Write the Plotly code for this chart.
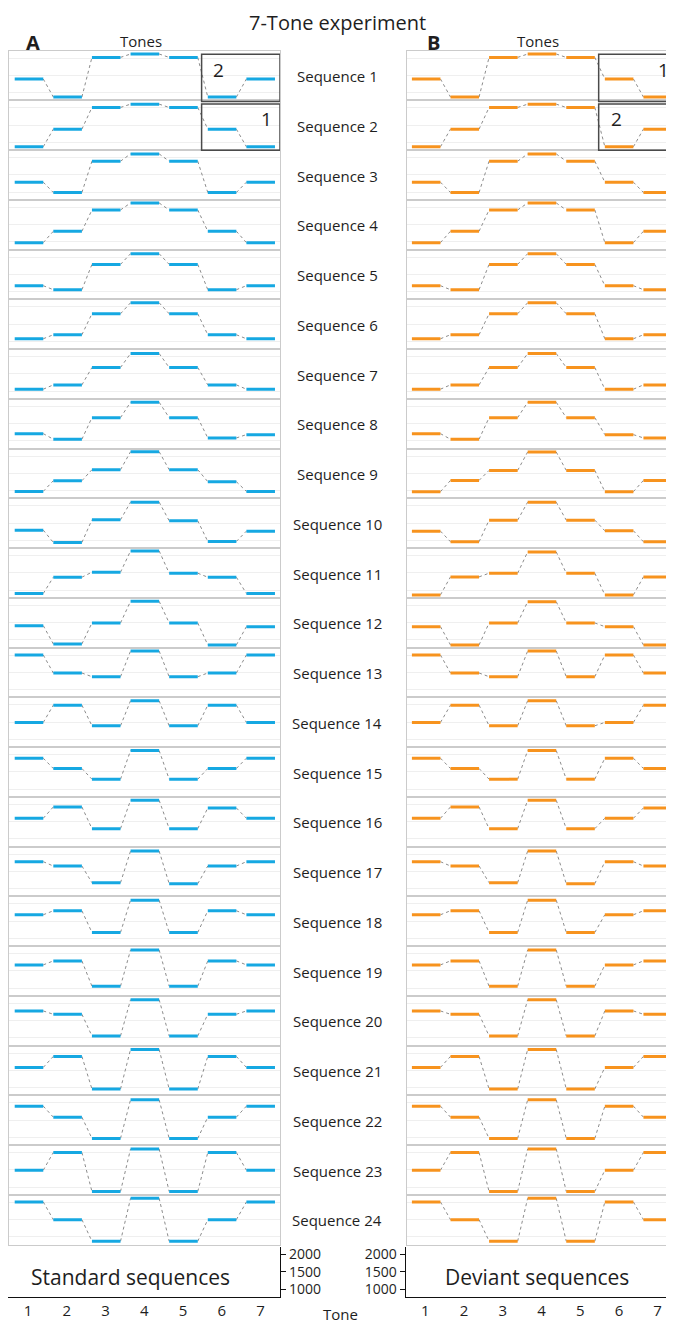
import plotly.graph_objects as go

# ---------------- data ----------------
TONES = [1, 2, 3, 4, 5, 6, 7]
SEQ_LABELS = [f"Sequence {i}" for i in range(1, 25)]
SCALE_TICKS = [1000, 1500, 2000]
SCALE_TEXT = ["1000", "1500", "2000"]

STANDARD = [
    [1396, 874, 2023, 2121, 2023, 874, 1396],
    [874, 1385, 2014, 2110, 2014, 1385, 874],
    [1289, 990, 1898, 2110, 1898, 990, 1289],
    [979, 1309, 1927, 2130, 1927, 1309, 979],
    [1173, 1057, 1791, 2101, 1791, 1057, 1173],
    [1077, 1193, 1802, 2121, 1802, 1193, 1077],
    [1057, 1182, 1686, 2092, 1686, 1182, 1057],
    [1211, 1048, 1675, 2121, 1675, 1086, 1182],
    [979, 1289, 1608, 2130, 1608, 1260, 979],
    [1298, 941, 1599, 2110, 1570, 970, 1269],
    [903, 1376, 1521, 2139, 1492, 1376, 903],
    [1414, 883, 1492, 2121, 1492, 854, 1385],
    [2005, 1483, 1376, 2121, 1376, 1483, 2005],
    [1492, 1994, 1396, 2121, 1396, 1994, 1492],
    [1898, 1599, 1289, 2121, 1289, 1599, 1898],
    [1599, 1927, 1298, 2121, 1298, 1898, 1599],
    [1782, 1657, 1173, 2092, 1144, 1657, 1782],
    [1686, 1802, 1173, 2110, 1173, 1802, 1686],
    [1675, 1791, 1057, 2110, 1057, 1791, 1675],
    [1782, 1686, 1057, 2110, 1057, 1686, 1782],
    [1588, 1907, 961, 2110, 961, 1907, 1588],
    [1907, 1588, 970, 2092, 970, 1588, 1907],
    [1492, 2005, 874, 2110, 874, 2005, 1492],
    [2014, 1501, 874, 2121, 874, 1501, 2014],
]

DEVIANT = [
    [1396, 874, 2023, 2121, 2023, 1396, 874],
    [874, 1385, 2014, 2110, 2014, 874, 1385],
    [1289, 990, 1898, 2110, 1898, 1289, 990],
    [979, 1309, 1927, 2130, 1927, 979, 1309],
    [1173, 1057, 1791, 2101, 1791, 1173, 1057],
    [1077, 1193, 1802, 2121, 1802, 1077, 1193],
    [1057, 1182, 1686, 2092, 1686, 1057, 1182],
    [1211, 1048, 1675, 2121, 1675, 1182, 1086],
    [970, 1298, 1588, 2121, 1588, 970, 1298],
    [1269, 961, 1588, 2110, 1588, 1280, 961],
    [863, 1385, 1492, 2110, 1492, 863, 1385],
    [1385, 854, 1492, 2110, 1492, 1385, 854],
    [2005, 1483, 1376, 2121, 1376, 2005, 1483],
    [1492, 1994, 1396, 2121, 1396, 1492, 1994],
    [1898, 1599, 1289, 2121, 1289, 1898, 1599],
    [1599, 1927, 1298, 2121, 1298, 1599, 1898],
    [1782, 1657, 1173, 2092, 1144, 1782, 1657],
    [1686, 1802, 1173, 2110, 1173, 1686, 1802],
    [1675, 1791, 1057, 2110, 1057, 1675, 1791],
    [1782, 1686, 1057, 2110, 1057, 1782, 1686],
    [1588, 1907, 961, 2110, 961, 1588, 1907],
    [1907, 1588, 970, 2092, 970, 1907, 1588],
    [1492, 2005, 874, 2110, 874, 1492, 2005],
    [2014, 1501, 874, 2121, 874, 2014, 1501],
]

# ---------------- layout constants (screen pixels of the page) ----------------
W, H = 674, 1322
OFF = 8            # page body margin
ROW_TOP = 50.7
ROW_H = 49.75
Y_RANGE = [774, 2217]
HALF = 0.37
FONT = "Open Sans"
TXT = "#1e1e1e"

PANELS = [
    dict(data=STANDARD, color="#16a8e2", x0=9.3, x1=280.0, xr=[0.49, 7.5],
         yside="right", label="Standard sequences", label_x=130, letter="A",
         letter_x=33, tones_x=141,
         boxes=[("2", "left"), ("1", "right")]),
    dict(data=DEVIANT, color="#f7931e", x0=406.7, x1=677.0, xr=[0.495, 7.5],
         yside="left", label="Deviant sequences", label_x=537, letter="B",
         letter_x=434, tones_x=538,
         boxes=[("1", "right"), ("2", "left")]),
]


def fx(px):
    return (px - OFF) / W


def fy(py):
    return 1 - (py - OFF) / H


def axname(kind, n):
    return kind if n == 1 else f"{kind}{n}"


def ref(kind, n):
    return kind[0] if n == 1 else f"{kind[0]}{n}"


def label(x, y, text, size, **kw):
    d = dict(xref="paper", yref="paper", x=x, y=y, text=text, showarrow=False,
             xanchor="center", yanchor="middle",
             font=dict(size=size, color=TXT, family=FONT))
    d.update(kw)
    return d


fig = go.Figure()
layout_axes = {}
shapes = []
annotations = []
n = 0

for p, panel in enumerate(PANELS):
    for r, vals in enumerate(panel["data"]):
        n += 1
        xa, ya = ref("x", n), ref("y", n)
        seg_x, seg_y = [], []
        for t, v in zip(TONES, vals):
            seg_x += [t - HALF, t + HALF, None]
            seg_y += [v, v, None]
        con_x, con_y = [], []
        for i in range(len(TONES) - 1):
            con_x += [TONES[i] + HALF, TONES[i + 1] - HALF, None]
            con_y += [vals[i], vals[i + 1], None]
        fig.add_trace(go.Scatter(x=con_x, y=con_y, mode="lines", xaxis=xa, yaxis=ya,
                                 line=dict(color="#8c8c8c", width=1, dash="dot"),
                                 hoverinfo="skip", showlegend=False))
        fig.add_trace(go.Scatter(x=seg_x, y=seg_y, mode="lines", xaxis=xa, yaxis=ya,
                                 line=dict(color=panel["color"], width=3),
                                 showlegend=False, name=SEQ_LABELS[r]))
        top = ROW_TOP + r * ROW_H
        bot = top + ROW_H
        layout_axes[axname("xaxis", n)] = dict(
            domain=[fx(panel["x0"]), min(1.0, fx(panel["x1"]))], range=panel["xr"],
            anchor=ya, showgrid=False, zeroline=False, showticklabels=False,
            ticks="", showline=True, linecolor="#cbcbcb", linewidth=1, mirror=True,
            fixedrange=True, automargin=False)
        layout_axes[axname("yaxis", n)] = dict(
            domain=[fy(bot), fy(top)], range=Y_RANGE, anchor=xa,
            tickvals=SCALE_TICKS, showticklabels=False, ticks="",
            showgrid=True, gridcolor="#efefef", gridwidth=1, zeroline=False,
            showline=True, linecolor="#cbcbcb", linewidth=1, mirror=True,
            fixedrange=True, automargin=False)
        # boxes over tones 6-7 in the first two rows
        if r < 2:
            num, pos = panel["boxes"][r]
            shapes.append(dict(type="rect", xref=xa, yref=f"{ya} domain",
                               x0=5.47, x1=7.5, y0=-0.02 if r == 0 else 0.0,
                               y1=0.93, line=dict(color="#4a4a4a", width=1.5),
                               fillcolor="rgba(0,0,0,0)", layer="above"))
            annotations.append(dict(xref=xa, yref=f"{ya} domain",
                                    x=5.92 if pos == "left" else 7.15, y=0.62,
                                    xanchor="center", yanchor="middle",
                                    text=num, showarrow=False,
                                    font=dict(size=19, color=TXT, family=FONT)))
        if p == 0:
            annotations.append(label(fx(337), fy(top + ROW_H / 2 + 0.5),
                                     SEQ_LABELS[r], 15))

    # bottom scale strip
    n += 1
    xa, ya = ref("x", n), ref("y", n)
    fig.add_trace(go.Scatter(x=[None], y=[None], xaxis=xa, yaxis=ya,
                             showlegend=False, hoverinfo="skip"))
    layout_axes[axname("xaxis", n)] = dict(
        domain=[fx(panel["x0"] - 1), min(1.0, fx(panel["x1"]))], range=panel["xr"],
        anchor=ya, tickvals=TONES, ticktext=[str(t) for t in TONES], ticks="",
        showline=True, linecolor="#111111", linewidth=1.2, showgrid=False,
        zeroline=False, tickfont=dict(size=15, color=TXT, family=FONT),
        fixedrange=True, automargin=False)
    layout_axes[axname("yaxis", n)] = dict(
        domain=[fy(1297), fy(1247)], range=Y_RANGE, anchor=xa, side=panel["yside"],
        tickvals=SCALE_TICKS, ticktext=SCALE_TEXT, ticks="outside", ticklen=5,
        tickcolor="#111111", showline=True, linecolor="#111111", linewidth=1.2,
        showgrid=False, zeroline=False,
        tickfont=dict(size=14, color=TXT, family=FONT), fixedrange=True,
        automargin=False)
    annotations.append(label(fx(panel["label_x"]), fy(1277), panel["label"], 21))
    annotations.append(label(fx(panel["letter_x"]), fy(42),
                             f"<b>{panel['letter']}</b>", 20))
    annotations.append(label(fx(panel["tones_x"]), fy(41), "Tones", 15))

annotations.append(label(fx(337), 1.0, "7-Tone experiment", 20,
                         yanchor="top", borderpad=0))
annotations.append(label(fx(340), fy(1314), "Tone", 15))

fig.update_layout(
    template="none",
    width=W, height=H, margin=dict(l=0, r=0, t=0, b=0, pad=0),
    paper_bgcolor="white", plot_bgcolor="white", showlegend=False,
    font=dict(family=FONT, color=TXT), shapes=shapes, annotations=annotations,
    **layout_axes,
)

fig.write_html("out.html")
